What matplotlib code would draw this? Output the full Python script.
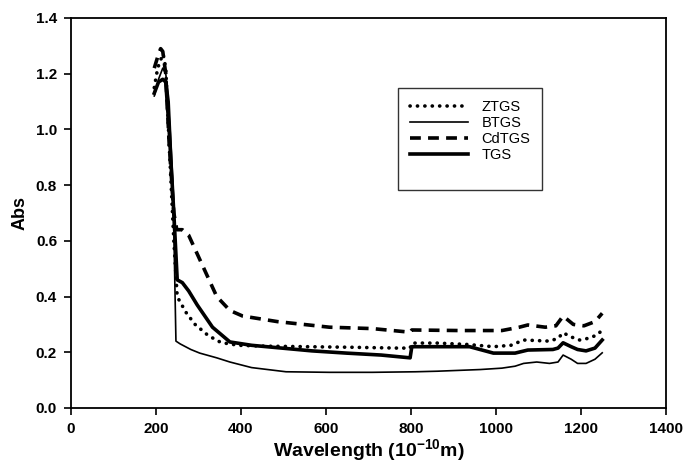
import matplotlib.pyplot as plt
from matplotlib.lines import Line2D

plt.rcParams['font.family'] = ['Liberation Sans', 'DejaVu Sans']
plt.rcParams['mathtext.fontset'] = 'custom'
plt.rcParams['mathtext.rm'] = 'Liberation Sans:bold'
plt.rcParams['mathtext.bf'] = 'Liberation Sans:bold'

# ZTGS (dotted)
ztgs_x = [196, 204, 211, 217, 223, 231, 242, 250, 257, 272, 292, 323, 353, 394, 455, 557, 658, 770,
          798, 802, 862, 933, 994, 1035, 1065, 1126, 1146, 1158, 1177, 1197, 1217, 1238, 1250]
ztgs_y = [1.15, 1.22, 1.25, 1.27, 1.22, 0.95, 0.60, 0.40, 0.38, 0.34, 0.30, 0.26, 0.235, 0.225, 0.222,
          0.22, 0.218, 0.215, 0.215, 0.233, 0.233, 0.228, 0.22, 0.225, 0.244, 0.24, 0.25, 0.27, 0.255,
          0.244, 0.25, 0.262, 0.28]

# BTGS (thin solid)
btgs_x = [196, 206, 216, 223, 231, 240, 245, 247, 257, 282, 303, 343, 374, 425, 506, 608, 709, 811,
          862, 963, 1014, 1045, 1065, 1096, 1126, 1146, 1158, 1177, 1192, 1212, 1233, 1250]
btgs_y = [1.12, 1.18, 1.22, 1.20, 1.10, 0.80, 0.40, 0.24, 0.23, 0.21, 0.197, 0.18, 0.165, 0.145, 0.13,
          0.128, 0.128, 0.13, 0.132, 0.138, 0.143, 0.15, 0.16, 0.165, 0.16, 0.165, 0.19, 0.175, 0.16,
          0.16, 0.175, 0.198]

# CdTGS (dashed)
cdtgs_x = [196, 204, 211, 216, 223, 231, 242, 249, 262, 277, 292, 313, 343, 374, 404, 486, 608, 709,
           798, 802, 913, 1014, 1055, 1075, 1116, 1141, 1158, 1182, 1207, 1233, 1250]
cdtgs_y = [1.22, 1.26, 1.29, 1.28, 1.20, 0.95, 0.70, 0.64, 0.64, 0.62, 0.57, 0.50, 0.40, 0.35, 0.33,
           0.31, 0.29, 0.285, 0.272, 0.28, 0.278, 0.278, 0.29, 0.298, 0.29, 0.295, 0.33, 0.30, 0.295,
           0.31, 0.34]

# TGS (thick solid)
tgs_x = [196, 206, 216, 223, 231, 242, 250, 262, 277, 297, 333, 374, 425, 496, 567, 648, 730, 798,
         802, 862, 938, 994, 1045, 1075, 1134, 1146, 1158, 1177, 1192, 1212, 1233, 1250]
tgs_y = [1.13, 1.17, 1.18, 1.17, 1.00, 0.70, 0.46, 0.45, 0.42, 0.37, 0.29, 0.237, 0.225, 0.215, 0.205,
         0.197, 0.19, 0.18, 0.22, 0.22, 0.22, 0.197, 0.197, 0.208, 0.21, 0.215, 0.234, 0.22, 0.21,
         0.205, 0.215, 0.244]

fig = plt.figure(figsize=(6.85, 4.66), dpi=100)
ax = fig.add_axes([0.1036, 0.1245, 0.8686, 0.8369])

ax.plot(ztgs_x, ztgs_y, color='black', lw=2.6, linestyle=(0, (0.05, 2.0)),
        dash_capstyle='round', label='ZTGS')
ax.plot(btgs_x, btgs_y, color='black', lw=1.2, label='BTGS')
ax.plot(cdtgs_x, cdtgs_y, color='black', lw=2.6, linestyle=(0, (3, 2)), label='CdTGS')
ax.plot(tgs_x, tgs_y, color='black', lw=2.6, label='TGS')

ax.set_xlim(0, 1400)
ax.set_ylim(0, 1.4)
ax.set_xticks(range(0, 1401, 200))
ax.set_yticks([0.0, 0.2, 0.4, 0.6, 0.8, 1.0, 1.2, 1.4])
ax.set_yticklabels(['0.0', '0.2', '0.4', '0.6', '0.8', '1.0', '1.2', '1.4'])
ax.tick_params(direction='out', length=5, width=1.2, labelsize=11, pad=5)
for lab in ax.get_xticklabels() + ax.get_yticklabels():
    lab.set_fontweight('bold')
for s in ax.spines.values():
    s.set_linewidth(1.3)

ax.set_xlabel(r'Wavelength (10$^{-10}$m)', fontsize=14, fontweight='bold', labelpad=1)
ax.set_ylabel('Abs', fontsize=13, fontweight='bold', labelpad=5)

handles, labels = ax.get_legend_handles_labels()
handles.append(Line2D([], [], color='none'))
labels.append(' ')
leg = ax.legend(handles, labels, loc='upper left', bbox_to_anchor=(0.55, 0.82), borderaxespad=0,
                fontsize=10.5, frameon=True, fancybox=False, edgecolor='black', handlelength=4,
                handletextpad=0.9, labelspacing=0.15, borderpad=0.8)
leg.get_frame().set_linewidth(1.0)

fig.savefig('out.png', dpi=100)
